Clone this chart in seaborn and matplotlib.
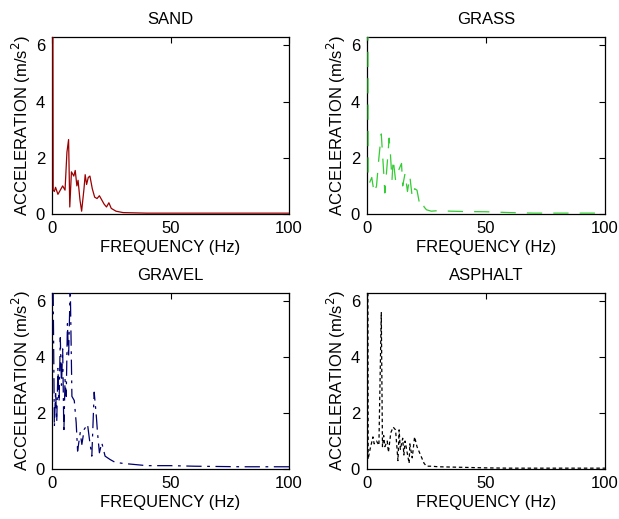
import matplotlib
matplotlib.use("Agg")
import matplotlib.pyplot as plt
import seaborn as sns
import pandas as pd

# ---- data ----
titles = ["SAND", "GRASS", "GRAVEL", "ASPHALT"]

freq_sand = [0, 0.5, 1, 1.5, 2.5, 3.5, 4.5, 5.5, 6.3, 7, 7.5, 8.2, 9.2, 9.8, 10.5, 11, 11.8, 12.5,
             13.5, 14, 14.6, 15.3, 16, 17, 18, 19, 20, 21, 22, 23, 24, 25, 27, 30, 40, 50, 60, 70, 80, 90, 100]
acc_sand = [25, 0.85, 0.8, 0.95, 0.7, 0.85, 1.0, 0.85, 2.2, 2.65, 0.25, 1.5, 1.35, 1.55, 1.0, 1.2, 0.5, 0.1,
            0.9, 1.4, 1.05, 1.3, 1.35, 0.9, 0.6, 0.55, 0.65, 0.5, 0.35, 0.25, 0.4, 0.2, 0.1, 0.05, 0.03, 0.03,
            0.03, 0.03, 0.03, 0.03, 0.03]

freq_grass = [0, 0.5, 1, 2, 3, 4, 5, 6, 7, 7.5, 8.5, 9.3, 9.8, 10.5, 11, 12, 13, 14.5, 15, 16, 17, 18, 19,
              20, 21, 22, 23, 24, 25, 27, 30, 35, 40, 50, 60, 70, 80, 90, 100]
acc_grass = [25, 1.4, 1.1, 1.3, 0.75, 1.0, 2.0, 2.85, 1.5, 0.75, 1.8, 2.7, 2.2, 1.2, 1.95, 1.2, 1.5, 1.8, 1.0,
             1.45, 0.8, 1.35, 0.6, 0.9, 0.85, 0.4, 0.5, 0.25, 0.15, 0.1, 0.12, 0.1, 0.09, 0.08, 0.05, 0.03,
             0.03, 0.03, 0.03]

freq_gravel = [0, 0.5, 1, 1.5, 2, 2.5, 3, 3.5, 4, 4.5, 5, 5.5, 6, 6.5, 7, 7.7, 8.4, 9.4, 10.2, 10.8, 11.9,
               12.6, 13.6, 15, 15.8, 16.8, 17.8, 18.7, 19.2, 20, 21, 22.4, 24.5, 26.6, 30, 40, 50, 60, 70,
               80, 90, 100]
acc_gravel = [25, 6.3, 1.5, 2.8, 1.7, 3.6, 2.4, 4.7, 3.0, 4.3, 1.3, 3.2, 2.6, 5.2, 4.0, 6.6, 2.6, 2.45, 1.66,
              0.64, 1.3, 0.88, 1.42, 1.6, 1.06, 0.46, 2.75, 1.9, 1.3, 0.58, 0.94, 0.46, 0.34, 0.24, 0.2,
              0.12, 0.12, 0.1, 0.09, 0.08, 0.08, 0.08]

freq_asph = [0, 0.5, 1, 2.5, 3, 4, 5, 6, 6.5, 7, 7.5, 8.5, 9, 10, 11, 12, 13, 13.5, 14, 15, 15.5, 16, 17.7,
             18, 19, 20, 21, 22, 23, 24, 25, 27, 30, 40, 50, 60, 70, 80, 90, 100]
acc_asph = [25, 0.35, 0.6, 1.15, 0.9, 1.0, 0.85, 5.6, 0.8, 1.2, 0.8, 1.0, 0.6, 1.3, 1.5, 1.4, 0.3, 1.4, 0.7,
            1.1, 0.5, 1.0, 0.2, 0.9, 0.4, 1.15, 0.8, 0.6, 0.4, 0.2, 0.1, 0.1, 0.08, 0.06, 0.04, 0.03, 0.03,
            0.03, 0.03, 0.03]

x_ticks = [0, 50, 100]
y_ticks = [0, 2, 4, 6]

# ---- styling ----
sns.set_theme(style="white")
plt.rcParams["font.family"] = ["Liberation Sans", "DejaVu Sans"]
plt.rcParams["lines.scale_dashes"] = False
plt.rcParams["text.color"] = "black"
plt.rcParams["axes.labelcolor"] = "black"
plt.rcParams["xtick.color"] = "black"
plt.rcParams["ytick.color"] = "black"

series = [(freq_sand, acc_sand), (freq_grass, acc_grass), (freq_gravel, acc_gravel), (freq_asph, acc_asph)]
colors = ["#9b0000", "#33cc33", "#000070", "#000000"]
styles = ["-", (0, (11, 8)), (0, (11, 4, 2, 4)), (0, (2.5, 2))]

W, H = 619, 519
boxes = [(52, 37, 289, 214), (367, 37, 605, 214), (52, 293, 289, 469), (367, 293, 605, 469)]

fig = plt.figure(figsize=(W / 100, H / 100), dpi=100)
for (l, t, r, b), title, (fx, fy), c, ls in zip(boxes, titles, series, colors, styles):
    ax = fig.add_axes([l / W, 1 - b / H, (r - l) / W, (b - t) / H])
    df = pd.DataFrame({"f": fx, "a": fy})
    sns.lineplot(data=df, x="f", y="a", ax=ax, color=c, linewidth=0.9, linestyle=ls, zorder=3)
    ax.set_xlim(0, 100)
    ax.set_ylim(0, 6.3)
    ax.set_xticks(x_ticks)
    ax.set_yticks(y_ticks)
    ax.tick_params(direction="in", length=4, width=0.8, top=True, right=True,
                   labelsize=12, pad=5, colors="black")
    ax.set_xlabel("FREQUENCY (Hz)", fontsize=12, labelpad=3, color="black")
    ax.set_ylabel("ACCELERATION (m/s$^2$)", fontsize=12, labelpad=2, color="black")
    ax.set_title(title, fontsize=12, pad=9, color="black")
    for s in ax.spines.values():
        s.set_visible(True)
        s.set_color("black")
        s.set_linewidth(0.9)

fig.savefig("out.png", dpi=100, facecolor="white")
